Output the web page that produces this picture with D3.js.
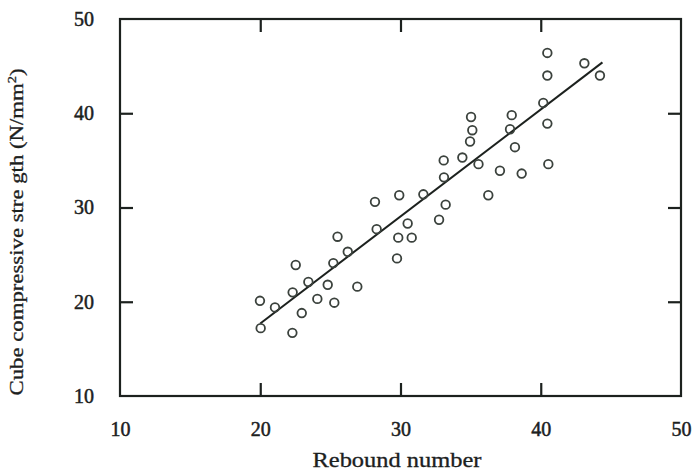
<!DOCTYPE html>
<html>
<head>
<meta charset="utf-8">
<script src="https://cdn.jsdelivr.net/npm/d3@7"></script>
<style>
  body { margin: 0; background: #fff; }
  svg text { font-family: "Liberation Serif", "Times New Roman", serif; fill: #1c211e; }
</style>
</head>
<body>
<div id="chart"></div>
<script>
// rebound number vs cube strength
const reboundNumber = [19.98, 20.03, 21.05, 22.53, 22.31, 22.29, 22.96, 23.43, 24.07, 24.81,
  25.28, 25.21, 25.51, 26.24, 26.92, 28.18, 28.30, 29.91, 29.84, 29.75,
  30.51, 30.80, 31.63, 32.75, 33.22, 33.10, 33.08, 34.41, 34.96, 35.12,
  35.03, 35.56, 36.26, 37.09, 37.81, 37.93, 38.16, 38.64, 40.18, 40.47,
  40.47, 40.47, 40.54, 43.11, 44.22];
const cubeStrength = [20.1, 17.2, 19.4, 23.9, 21.0, 16.7, 18.8, 22.1, 20.3, 21.8,
  19.9, 24.1, 26.9, 25.3, 21.6, 30.6, 27.7, 31.3, 26.8, 24.6,
  28.3, 26.8, 31.4, 28.7, 30.3, 33.2, 35.0, 35.3, 37.0, 38.2,
  39.6, 34.6, 31.3, 33.9, 38.3, 39.8, 36.4, 33.6, 41.1, 38.9,
  44.0, 46.4, 34.6, 45.3, 44.0];
// fitted line, two end points
const fitX = [20.0, 44.4];
const fitY = [17.7, 45.4];
const xTicks = [10, 20, 30, 40, 50];
const yTicks = [10, 20, 30, 40, 50];
const innerTicks = [20, 30, 40];

const width = 692, height = 471;
const margin = { top: 19, right: 11, bottom: 75, left: 120 };
const ink = "#1c211e";

const svg = d3.select("#chart").append("svg")
  .attr("width", width)
  .attr("height", height);

const x = d3.scaleLinear().domain([10, 50]).range([margin.left, width - margin.right]);
const y = d3.scaleLinear().domain([10, 50]).range([height - margin.bottom, margin.top]);

const x0 = x.range()[0], x1 = x.range()[1], y0 = y.range()[0], y1 = y.range()[1];

// tick labels
svg.append("g")
  .attr("transform", `translate(0,${y0})`)
  .call(d3.axisBottom(x).tickValues(xTicks).tickSize(0).tickPadding(26).tickFormat(d3.format("d")))
  .call(g => g.select(".domain").remove())
  .selectAll("text").style("font-size", "20px").attr("stroke", ink).attr("stroke-width", 0.5);

svg.append("g")
  .attr("transform", `translate(${x0},0)`)
  .call(d3.axisLeft(y).tickValues(yTicks).tickSize(0).tickPadding(26).tickFormat(d3.format("d")))
  .call(g => g.select(".domain").remove())
  .selectAll("text").style("font-size", "20px").attr("stroke", ink).attr("stroke-width", 0.5);

// inward tick marks on all four sides
const tickLen = 13;
const tickAxes = [
  [d3.axisBottom(x), `translate(0,${y0})`],
  [d3.axisTop(x), `translate(0,${y1})`],
  [d3.axisLeft(y), `translate(${x0},0)`],
  [d3.axisRight(y), `translate(${x1},0)`]
];
tickAxes.forEach(([ax, tr]) => {
  svg.append("g")
    .attr("transform", tr)
    .call(ax.tickValues(innerTicks).tickSize(-tickLen).tickFormat(""))
    .call(g => g.select(".domain").remove())
    .selectAll("line").attr("stroke", ink).attr("stroke-width", 2.2);
});

// frame
svg.append("rect")
  .attr("x", x0).attr("y", y1)
  .attr("width", x1 - x0).attr("height", y0 - y1)
  .attr("fill", "none")
  .attr("stroke", ink)
  .attr("stroke-width", 2.2);

// regression line
svg.append("line")
  .attr("x1", x(fitX[0])).attr("y1", y(fitY[0]))
  .attr("x2", x(fitX[1])).attr("y2", y(fitY[1]))
  .attr("stroke", ink)
  .attr("stroke-width", 2);

// points
svg.selectAll(".pt")
  .data(reboundNumber.map((r, i) => ({ r, s: cubeStrength[i] })))
  .enter()
  .append("circle")
  .attr("class", "pt")
  .attr("cx", d => x(d.r))
  .attr("cy", d => y(d.s))
  .attr("r", 4.3)
  .attr("fill", "none")
  .attr("stroke", "#3b423d")
  .attr("stroke-width", 1.8);

// axis titles
svg.append("text")
  .attr("x", 397).attr("y", 467)
  .attr("text-anchor", "middle")
  .attr("textLength", 169)
  .attr("lengthAdjust", "spacingAndGlyphs")
  .attr("stroke", ink).attr("stroke-width", 0.3)
  .style("font-size", "20px")
  .text("Rebound number");

const yt = svg.append("text")
  .attr("transform", "translate(23,232) rotate(-90)")
  .attr("text-anchor", "middle")
  .attr("textLength", 327)
  .attr("lengthAdjust", "spacingAndGlyphs")
  .attr("stroke", ink).attr("stroke-width", 0.3)
  .style("font-size", "19px");
yt.append("tspan").text("Cube compressive stre gth (N/mm");
yt.append("tspan").attr("dy", -7).style("font-size", "12px").text("2");
yt.append("tspan").attr("dy", 7).text(")");
</script>
</body>
</html>
